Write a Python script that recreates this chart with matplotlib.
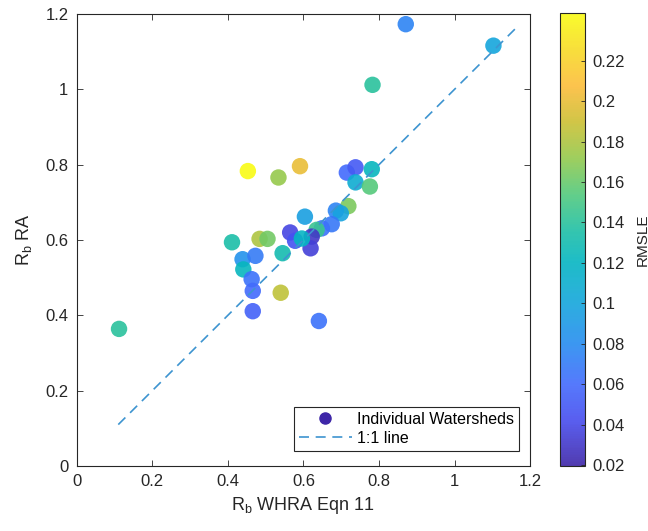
import matplotlib
matplotlib.use("Agg")
import matplotlib.pyplot as plt
from matplotlib.colors import LinearSegmentedColormap
from matplotlib.lines import Line2D

plt.rcParams['font.family'] = ['Liberation Sans', 'DejaVu Sans']

# values
rb_whra = [0.871, 1.103, 0.783, 0.453, 0.591, 0.534, 0.715, 0.738, 0.781, 0.738,
           0.776, 0.719, 0.686, 0.699, 0.675, 0.649, 0.635, 0.604, 0.565, 0.578,
           0.622, 0.619, 0.596, 0.484, 0.505, 0.411, 0.545, 0.439, 0.473, 0.441,
           0.463, 0.466, 0.466, 0.540, 0.641, 0.112]
rb_ra = [1.173, 1.116, 1.012, 0.783, 0.796, 0.766, 0.779, 0.793, 0.788, 0.753,
         0.742, 0.690, 0.678, 0.671, 0.642, 0.631, 0.627, 0.662, 0.620, 0.598,
         0.609, 0.578, 0.604, 0.603, 0.603, 0.594, 0.565, 0.549, 0.558, 0.522,
         0.496, 0.465, 0.411, 0.460, 0.385, 0.364]
rmsle = [0.075, 0.100, 0.140, 0.243, 0.200, 0.172, 0.060, 0.050, 0.122, 0.108,
         0.155, 0.165, 0.075, 0.098, 0.068, 0.065, 0.145, 0.095, 0.038, 0.045,
         0.030, 0.035, 0.120, 0.180, 0.163, 0.135, 0.130, 0.085, 0.070, 0.122,
         0.065, 0.060, 0.055, 0.185, 0.065, 0.140]

one_to_one = [0.11, 1.17]

# rough parula colormap (MATLAB default)
parula_pts = [
    (0.00, (0.2422, 0.1504, 0.6603)),
    (0.10, (0.2797, 0.3020, 0.9350)),
    (0.18, (0.2600, 0.4200, 0.9900)),
    (0.27, (0.1500, 0.5500, 0.9400)),
    (0.36, (0.0800, 0.6500, 0.8600)),
    (0.45, (0.0200, 0.7100, 0.7600)),
    (0.52, (0.1200, 0.7500, 0.6500)),
    (0.60, (0.3200, 0.7900, 0.4900)),
    (0.68, (0.5800, 0.7900, 0.3000)),
    (0.76, (0.8000, 0.7500, 0.2000)),
    (0.84, (0.9900, 0.7400, 0.2300)),
    (0.92, (0.9700, 0.8600, 0.1500)),
    (1.00, (0.9769, 0.9839, 0.0805)),
]
parula = LinearSegmentedColormap.from_list("parula", parula_pts)

fig = plt.figure(figsize=(6.48, 5.31), dpi=100)
ax = fig.add_axes([0.1184, 0.1224, 0.6996, 0.8512])
cax = fig.add_axes([0.8642, 0.1224, 0.0386, 0.8531])

sc = ax.scatter(rb_whra, rb_ra, c=rmsle, cmap=parula, vmin=0.0195, vmax=0.2436,
                s=140, alpha=0.9, edgecolors='none', zorder=3)
ax.plot(one_to_one, one_to_one, '--', color='#3d94d0', lw=1.2, dashes=(6, 4), zorder=4)

ax.set_xlim(0, 1.2)
ax.set_ylim(0, 1.2)
ticks = [0, 0.2, 0.4, 0.6, 0.8, 1, 1.2]
ax.set_xticks(ticks)
ax.set_yticks(ticks)
ax.set_xticklabels(['0', '0.2', '0.4', '0.6', '0.8', '1', '1.2'])
ax.set_yticklabels(['0', '0.2', '0.4', '0.6', '0.8', '1', '1.2'])
ax.tick_params(direction='in', top=True, right=True, length=4, width=0.6,
               labelsize=12, color='#262626', labelcolor='#262626', pad=6)
for sp in ax.spines.values():
    sp.set_color('#262626')
    sp.set_linewidth(0.8)

ax.set_xlabel(r'R$_\mathregular{b}$ WHRA Eqn 11', fontsize=13, color='#262626', labelpad=4)
ax.set_ylabel(r'R$_\mathregular{b}$ RA', fontsize=13, color='#262626', labelpad=8)

handles = [
    Line2D([], [], marker='o', ls='none', color=parula(0.0), markersize=8),
    Line2D([], [], ls='--', color='#3d94d0', lw=1.2, dashes=(6, 4)),
]
leg = ax.legend(handles, ['Individual Watersheds', '1:1 line'], loc='lower right',
                fontsize=11.5, fancybox=False, edgecolor='#262626', framealpha=1,
                borderpad=0.3, handlelength=3.3, handletextpad=0.35,
                labelspacing=0.25, borderaxespad=0,
                bbox_to_anchor=(0.976, 0.034))
leg.get_frame().set_linewidth(0.8)

cb = fig.colorbar(sc, cax=cax)
cb.set_ticks([0.02, 0.04, 0.06, 0.08, 0.1, 0.12, 0.14, 0.16, 0.18, 0.2, 0.22])
cb.set_ticklabels(['0.02', '0.04', '0.06', '0.08', '0.1', '0.12', '0.14', '0.16',
                   '0.18', '0.2', '0.22'])
cb.ax.tick_params(direction='in', length=3, width=0.6, labelsize=12,
                  color='#262626', labelcolor='#262626', pad=5)
cb.outline.set_edgecolor('#262626')
cb.outline.set_linewidth(0.8)
cb.set_label('RMSLE', fontsize=11, color='#262626')
cb.ax.yaxis.set_label_coords(3.02, 0.5)

fig.savefig("out.png", dpi=100)
